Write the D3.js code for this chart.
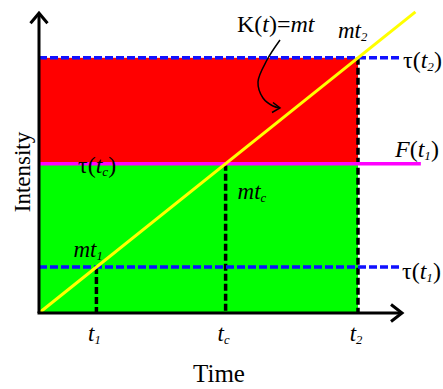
<!DOCTYPE html>
<html lang="en">
<head>
<meta charset="utf-8">
<title>intensity vs time</title>
<script src="https://d3js.org/d3.v7.min.js"></script>
<style>
  body{margin:0;background:#fff;}
  svg text{font-family:"Liberation Serif","Times New Roman",serif;fill:#000;}
</style>
</head>
<body>
<div id="chart1"></div>
<script>
// characteristic times (arbitrary units) and slope of K(t)=mt
var timeNames = ["t1", "tc", "t2"]
var timeValues = [1.8, 5.85, 10]
var slope = 1
// thresholds tau(t1), tau(tc)=F(t1), tau(t2) are just m*t
var tauValues = timeValues.map(function(t){ return slope * t })
// time axis tick labels (base + subscript)
var tickBase = ["t", "t", "t"]
var tickSub = ["1", "c", "2"]

var w = 443, h = 389
var xScale = d3.scaleLinear().domain([0, 12]).range([39, 421.8])
var yScale = d3.scaleLinear().domain([0, 12]).range([313, 6.8])

var svg = d3.select("#chart1").append("svg")
  .attr("width", w).attr("height", h)

var t1 = timeValues[0], tc = timeValues[1], t2 = timeValues[2]
var tau1 = tauValues[0], tauC = tauValues[1], tau2 = tauValues[2]

// green block (below F) and red block (above F)
svg.append("rect")
  .attr("x", xScale(0)).attr("y", yScale(tauC))
  .attr("width", xScale(t2) - xScale(0))
  .attr("height", yScale(0) - yScale(tauC))
  .attr("fill", "#00ff00")
svg.append("rect")
  .attr("x", xScale(0)).attr("y", yScale(tau2))
  .attr("width", xScale(t2) - xScale(0))
  .attr("height", yScale(tauC) - yScale(tau2))
  .attr("fill", "#ff0000")

// vertical black dashed drops from the line to the time axis
svg.selectAll(".drop")
  .data(timeValues)
  .enter().append("line")
  .attr("class", "drop")
  .attr("x1", function(d){ return xScale(d) })
  .attr("x2", function(d){ return xScale(d) })
  .attr("y1", function(d){ return yScale(slope * d) })
  .attr("y2", yScale(0))
  .attr("stroke", "#000").attr("stroke-width", 3.5)
  .attr("stroke-dasharray", "7,3")

// blue dashed thresholds tau(t1), tau(t2)
svg.selectAll(".tau")
  .data([tau1, tau2])
  .enter().append("line")
  .attr("class", "tau")
  .attr("x1", xScale(0)).attr("x2", xScale(11.3))
  .attr("y1", function(d){ return yScale(d) })
  .attr("y2", function(d){ return yScale(d) })
  .attr("stroke", "#1010ff").attr("stroke-width", 3.5)
  .attr("stroke-dasharray", "8,3")

// magenta F(t1) line
svg.append("line")
  .attr("x1", xScale(0)).attr("x2", xScale(11.97))
  .attr("y1", yScale(tauC)).attr("y2", yScale(tauC))
  .attr("stroke", "#ff00ff").attr("stroke-width", 3.5)

// yellow K(t)=mt line
var tLine = [0, 11.8]
svg.append("path")
  .datum(tLine)
  .attr("d", d3.line()
    .x(function(d){ return xScale(d) })
    .y(function(d){ return yScale(slope * d) }))
  .attr("stroke", "#ffff00").attr("stroke-width", 3).attr("fill", "none")

// axes with open arrow heads
var axisColor = "#000"
svg.append("line")
  .attr("x1", xScale(0)).attr("y1", yScale(0))
  .attr("x2", xScale(0)).attr("y2", yScale(11.75))
  .attr("stroke", axisColor).attr("stroke-width", 3)
svg.append("path")
  .attr("d", "M" + (xScale(0) - 8.5) + "," + (yScale(11.75) + 10) +
    "L" + xScale(0) + "," + yScale(11.75) +
    "L" + (xScale(0) + 8.5) + "," + (yScale(11.75) + 10))
  .attr("stroke", axisColor).attr("stroke-width", 3).attr("fill", "none")
svg.append("line")
  .attr("x1", xScale(0) - 1.5).attr("y1", yScale(0))
  .attr("x2", xScale(11.38)).attr("y2", yScale(0))
  .attr("stroke", axisColor).attr("stroke-width", 3)
svg.append("path")
  .attr("d", "M" + (xScale(11.38) - 11) + "," + (yScale(0) - 8.5) +
    "L" + xScale(11.38) + "," + yScale(0) +
    "L" + (xScale(11.38) - 11) + "," + (yScale(0) + 8.5))
  .attr("stroke", axisColor).attr("stroke-width", 3).attr("fill", "none")

// curved pointer from the K(t)=mt label to the line
var curvePts = [[280, 40], [267, 60], [258, 82], [263, 98], [273, 106], [280, 108]]
svg.append("path")
  .datum(curvePts)
  .attr("d", d3.line().curve(d3.curveCatmullRom))
  .attr("stroke", "#000").attr("stroke-width", 1.5).attr("fill", "none")
svg.append("path")
  .attr("d", "M273,102.5L280,108L272,112.5")
  .attr("stroke", "#000").attr("stroke-width", 1.5).attr("fill", "none")

// helper to write base + subscript labels
function label(x, y, parts, size, anchor){
  var t = svg.append("text")
    .attr("x", x).attr("y", y)
    .attr("font-size", size)
    .attr("text-anchor", anchor || "start")
  parts.forEach(function(p){
    var s = t.append("tspan").text(p.s)
    if(p.i) s.attr("font-style", "italic")
    if(p.sub) s.attr("font-size", size * 0.55).attr("dy", 3)
    if(p.up) s.attr("dy", -3)
  })
  return t
}

// time tick labels
timeValues.forEach(function(d, i){
  label(xScale(d) - 2, 341, [{s: tickBase[i], i: true}, {s: tickSub[i], i: true, sub: true}], 23, "middle")
})

// line point labels
label(xScale(t1) - 23, 257, [{s: "mt", i: true}, {s: "1", i: true, sub: true}], 23)
label(xScale(tc) + 12, 199, [{s: "mt", i: true}, {s: "c", i: true, sub: true}], 23)
label(xScale(t2) - 20, 38, [{s: "mt", i: true}, {s: "2", i: true, sub: true}], 23)

// threshold labels
label(403, 68, [{s: "\u03c4("}, {s: "t", i: true}, {s: "2", i: true, sub: true}, {s: ")", up: true}], 24)
label(402, 279, [{s: "\u03c4("}, {s: "t", i: true}, {s: "1", i: true, sub: true}, {s: ")", up: true}], 24)
label(78, 173, [{s: "\u03c4("}, {s: "t", i: true}, {s: "c", i: true, sub: true}, {s: ")", up: true}], 24)
label(395, 157, [{s: "F", i: true}, {s: "("}, {s: "t", i: true}, {s: "1", i: true, sub: true}, {s: ")", up: true}], 24)

// K(t)=mt title
label(237, 32, [{s: "K("}, {s: "t", i: true}, {s: ")="}, {s: "mt", i: true}], 24)

// axis titles
svg.append("text")
  .attr("x", 219).attr("y", 382)
  .attr("text-anchor", "middle").attr("font-size", 25)
  .text("Time")
svg.append("text")
  .attr("transform", "translate(30,172) rotate(-90)")
  .attr("text-anchor", "middle").attr("font-size", 23)
  .text("Intensity")
</script>
</body>
</html>
